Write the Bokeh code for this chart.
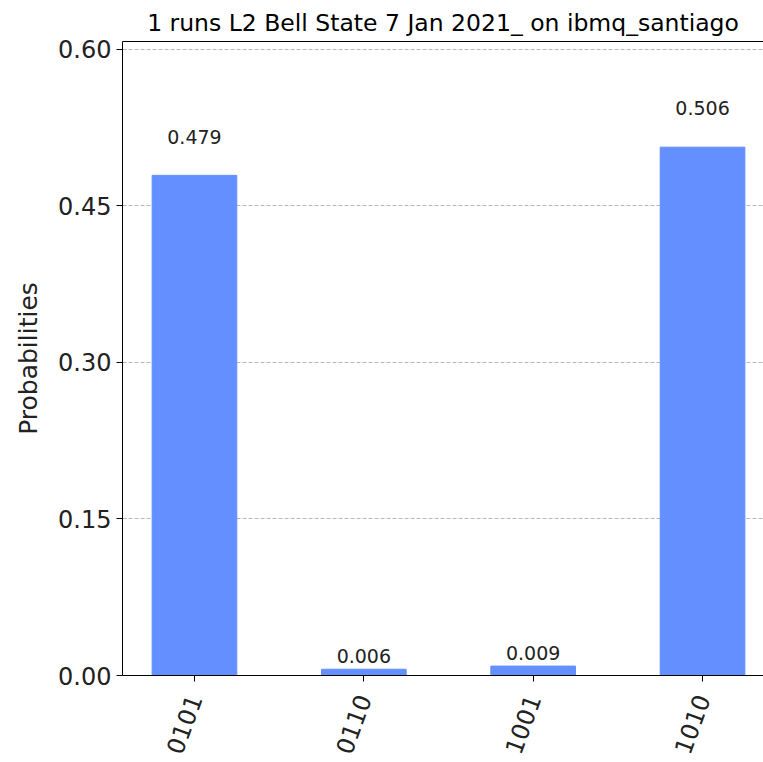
import math
from bokeh.plotting import figure
from bokeh.models import Range1d, FixedTicker, NumeralTickFormatter, ColumnDataSource, LinearAxis
from bokeh.core.properties import value
from bokeh.embed import file_html
from bokeh.resources import INLINE

states = ["0101", "0110", "1001", "1010"]
probs = [0.479, 0.006, 0.009, 0.506]
y_ticks = [0.0, 0.15, 0.30, 0.45, 0.60]
title_text = "1 runs L2 Bell State 7 Jan 2021_ on ibmq_santiago"
y_label = "Probabilities"

FONT = "DejaVu Sans"
xs = list(range(len(states)))
labels = ["%.3f" % v for v in probs]
label_y = [v * 1.05 for v in probs]
src = ColumnDataSource(dict(x=xs, top=probs, label=labels, ly=label_y))

p = figure(width=763, height=762, output_backend="svg", toolbar_location=None,
           x_range=Range1d(-0.425, 3.36), y_range=Range1d(0, max(probs) * 1.2),
           min_border_left=122, min_border_right=0, min_border_top=41,
           min_border_bottom=87)

p.title.text = title_text
p.title.align = "center"
p.title.text_font = FONT
p.title.text_font_size = "23.5px"
p.title.text_font_style = "normal"
p.title.text_color = "black"
p.title.offset = 13

p.vbar(x="x", top="top", bottom=0, width=0.5, color="#648fff", source=src)
p.text(x="x", y="ly", text="label", source=src, text_align="center",
       text_baseline="bottom", text_font=value(FONT), text_font_size="19px",
       text_color="#222222", y_offset=-6)

p.xgrid.visible = False
p.ygrid.ticker = FixedTicker(ticks=y_ticks)
p.ygrid.grid_line_color = "#b8b8b8"
p.ygrid.grid_line_dash = "4 2"
p.ygrid.grid_line_width = 1

p.yaxis.ticker = FixedTicker(ticks=y_ticks)
p.yaxis.formatter = NumeralTickFormatter(format="0.00")
p.yaxis.axis_label = y_label
p.yaxis.axis_label_text_font = FONT
p.yaxis.axis_label_text_font_size = "25px"
p.yaxis.axis_label_text_font_style = "normal"
p.yaxis.axis_label_text_color = "#222222"
p.yaxis.axis_label_standoff = 12

p.xaxis.ticker = FixedTicker(ticks=xs)
p.xaxis.major_label_overrides = {i: s for i, s in zip(xs, states)}
p.xaxis.major_label_orientation = math.radians(70)
p.xaxis.major_label_standoff = 14

for ax in (p.xaxis, p.yaxis):
    ax.major_label_text_font = FONT
    ax.major_label_text_font_size = "24px"
    ax.major_label_text_color = "#222222"
    ax.axis_line_color = "black"
    ax.major_tick_line_color = "black"
    ax.major_tick_out = 6
    ax.major_tick_in = 0
    ax.minor_tick_line_color = None

# top spine only (right spine lies outside the reference crop)
top_spine = LinearAxis(ticker=FixedTicker(ticks=[]), major_label_text_font_size="0px",
                       axis_line_color="black", major_tick_line_color=None,
                       minor_tick_line_color=None)
p.add_layout(top_spine, "above")

p.outline_line_color = None

open("out.html", "w").write(file_html(p, INLINE))
